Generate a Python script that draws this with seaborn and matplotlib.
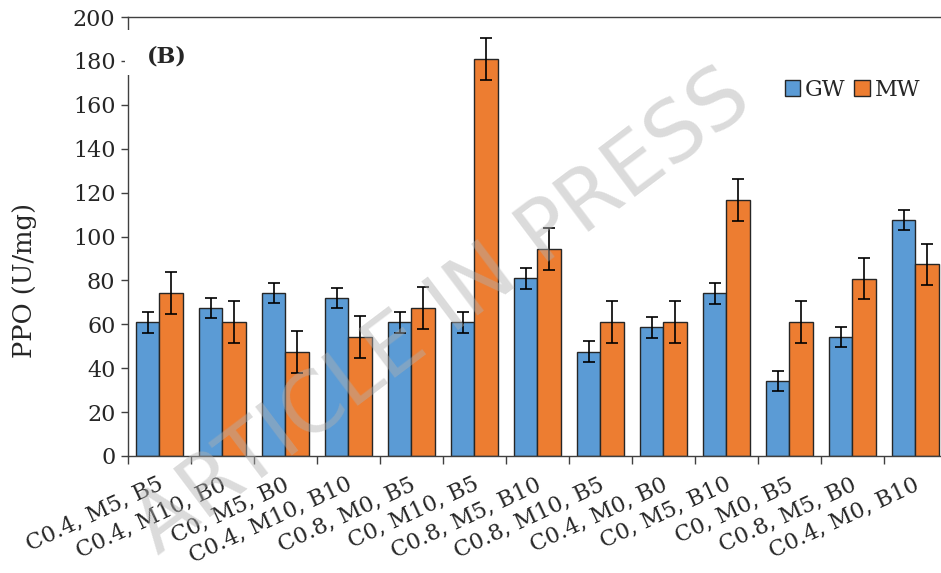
import matplotlib
matplotlib.use("Agg")
import matplotlib.pyplot as plt
import matplotlib.transforms as mtransforms
import seaborn as sns
import pandas as pd
import numpy as np
from matplotlib.patches import Rectangle

categories = ["C0.4, M5, B5", "C0.4, M10, B0", "C0, M5, B0", "C0.4, M10, B10",
              "C0.8, M0, B5", "C0, M10, B5", "C0.8, M5, B10", "C0.8, M10, B5",
              "C0.4, M0, B0", "C0, M5, B10", "C0, M0, B5", "C0.8, M5, B0",
              "C0.4, M0, B10"]
gw = [60.9, 67.4, 74.3, 72.0, 60.9, 60.9, 81.0, 47.5, 58.6, 74.1, 34.2, 54.2, 107.5]
mw = [74.3, 60.9, 47.5, 54.2, 67.4, 180.9, 94.2, 60.9, 60.9, 116.5, 60.9, 80.8, 87.3]
gw_err = [4.7] * 13
mw_err = [9.5] * 13
series = ["GW", "MW"]
colors = ["#5B9BD5", "#ED7D31"]

df = pd.DataFrame({
    "cat": categories * 2,
    "series": ["GW"] * 13 + ["MW"] * 13,
    "val": gw + mw,
})

sns.set_style("white")
plt.rcParams["font.family"] = ["DejaVu Serif"]

fig = plt.figure(figsize=(9.41, 5.73), dpi=100)
ax = fig.add_axes([128 / 941, 1 - 456 / 573, 819 / 941, 439 / 573])

sns.barplot(data=df, x="cat", y="val", hue="series", hue_order=series,
            order=categories, palette=colors, width=0.74, errorbar=None,
            edgecolor="#262626", linewidth=1.0, saturation=1, ax=ax)

errs = [gw_err, mw_err]
for cont, e in zip(ax.containers, errs):
    xs = [p.get_x() + p.get_width() / 2 for p in cont.patches]
    hs = [p.get_height() for p in cont.patches]
    ax.errorbar(xs, hs, yerr=e, fmt="none", ecolor="black", elinewidth=1.2,
                capsize=4.3, capthick=1.2, zorder=4)

ax.set_ylim(0, 200)
ax.set_xlim(-0.5, len(categories) - 0.5)
ax.set_yticks(np.arange(0, 201, 20))
ax.tick_params(axis="y", labelsize=16, length=5, width=1, direction="out",
               left=True, color="#404040", pad=4)
ax.set_xticks(np.arange(-0.5, len(categories), 1.0))
ax.set_xticklabels([])
ax.tick_params(axis="x", which="major", length=6, width=1, direction="out",
               bottom=True, color="#404040")
ax.set_xlabel("")

# category labels placed at category centres (data x, axes y)
trans = mtransforms.blended_transform_factory(ax.transData, ax.transAxes) + \
    mtransforms.ScaledTranslation(-2 / 100, -17 / 100, fig.dpi_scale_trans)
for i, c in enumerate(categories):
    ax.text(i, 0, c, transform=trans, rotation=25, ha="right", va="top",
            rotation_mode="anchor", fontsize=16, clip_on=False)

ax.set_ylabel("PPO (U/mg)", fontsize=18.5)
ax.yaxis.set_label_coords(-0.111, 0.399)

for s in ["left", "bottom", "top"]:
    ax.spines[s].set_visible(True)
    ax.spines[s].set_color("#404040")
    ax.spines[s].set_linewidth(1.0)
ax.spines["right"].set_visible(False)

leg = ax.legend(loc="upper right", bbox_to_anchor=(0.9915, 0.905), ncol=2,
                frameon=False, fontsize=16, handlelength=0.7, handleheight=0.7,
                handletextpad=0.2, columnspacing=0.4)
for h in leg.legend_handles:
    h.set_edgecolor("#262626")

fig.add_artist(Rectangle((125 / 941, 1 - 75 / 573), 0.08, 45 / 573,
                         transform=fig.transFigure, facecolor="white",
                         edgecolor="none", zorder=5))
fig.text(147 / 941, 1 - 56 / 573, "(B)", fontsize=16, fontweight="bold",
         ha="left", va="center", zorder=6)

fig.text(0.470, 0.455, "ARTICLE IN PRESS", fontsize=60, rotation=37,
         ha="center", va="center", color="#b0b0b0", alpha=0.45,
         family="DejaVu Sans", zorder=10)

fig.savefig("out.png", dpi=100)
